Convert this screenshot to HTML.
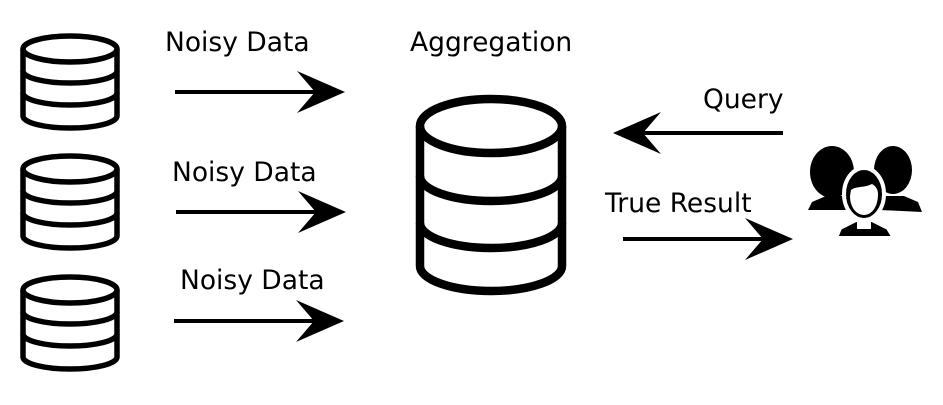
<!DOCTYPE html>
<html><head><style>
html,body{margin:0;padding:0;background:#fff;}
svg text{font-family:"DejaVu Sans","Liberation Sans",sans-serif;font-size:26.5px;fill:#000;}
</style></head><body>
<svg width="943" height="400" viewBox="0 0 943 400" xmlns="http://www.w3.org/2000/svg">
<defs>
<g id="sdb" fill="none" stroke="#000" stroke-width="5.5">
  <ellipse cx="70" cy="49" rx="47" ry="13"/>
  <path d="M23 49 V116 A47 12 0 0 0 117 116 V49"/>
  <path d="M23 71 A47 12 0 0 0 117 71"/>
  <path d="M23 93 A47 12 0 0 0 117 93"/>
</g>
<g id="arr">
  <line x1="0" y1="0" x2="140" y2="0" stroke="#000" stroke-width="4"/>
  <polygon points="170,0 122,-21 140,0 122,21" fill="#000"/>
</g>
</defs>
<use href="#sdb"/>
<use href="#sdb" y="120"/>
<use href="#sdb" y="241"/>

<g fill="none" stroke="#000" stroke-width="8.5">
  <ellipse cx="491" cy="126" rx="71" ry="27"/>
  <path d="M420 126 V266 A71 25 0 0 0 562 266 V126"/>
  <path d="M420 176 A71 25 0 0 0 562 176"/>
  <path d="M420 223 A71 25 0 0 0 562 223"/>
</g>

<use href="#arr" transform="translate(175,92)"/>
<use href="#arr" transform="translate(176,212)"/>
<use href="#arr" transform="translate(174,321)"/>
<use href="#arr" transform="translate(783,133) scale(-1,1)"/>
<use href="#arr" transform="translate(623,239)"/>

<text x="165" y="51">Noisy Data</text>
<text x="172" y="181">Noisy Data</text>
<text x="180" y="289">Noisy Data</text>
<text x="410" y="51">Aggregation</text>
<text x="703" y="108">Query</text>
<text x="605" y="212">True Result</text>

<!-- people icon -->
<g>
  <ellipse cx="832" cy="172" rx="22" ry="26" fill="#000"/>
  <path d="M808 210 L812 202 L826 196 L846 196 L852 210 Z" fill="#000"/>
  <ellipse cx="893" cy="170" rx="19" ry="24" fill="#000"/>
  <path d="M880 210 L882 196 L904 196 L918 202 L922 212 Z" fill="#000"/>
  <path d="M836 238 L840 228 L856 220 L872 220 L888 228 L894 238 Z" fill="#000" stroke="#fff" stroke-width="4"/>
  <path d="M857 222 L871 222 L871 229 L857 229 Z" fill="#fff"/>
  <ellipse cx="864" cy="194" rx="20" ry="26" fill="#000" stroke="#fff" stroke-width="4"/>
  <path d="M851 190 C856 186 864 188 872 184 C876 186 878 190 878 194 C878 208 871 215 864 215 C857 215 850 208 850 196 Z" fill="#fff"/>
</g>
</svg>
</body></html>
